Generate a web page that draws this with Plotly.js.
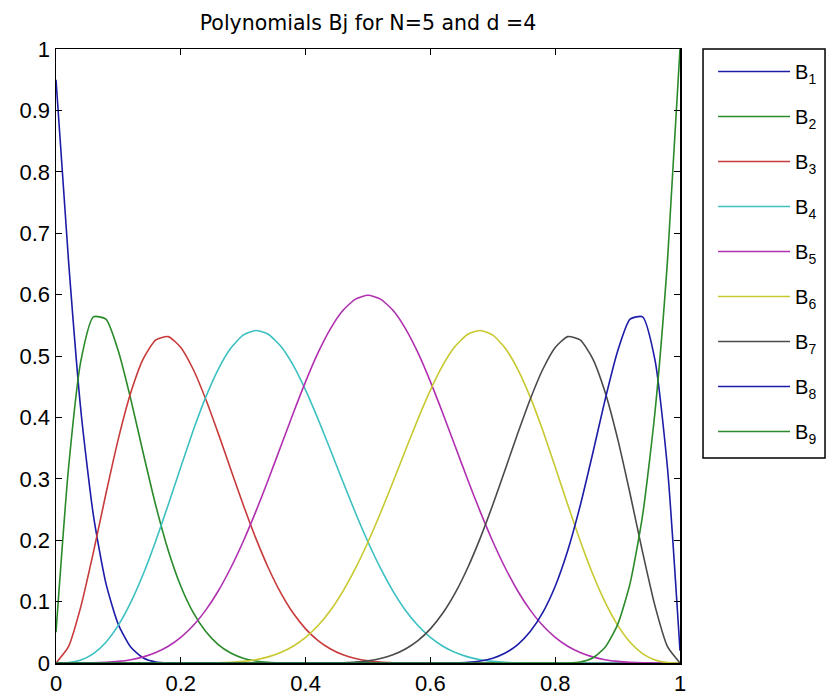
<!DOCTYPE html>
<html>
<head>
<meta charset="utf-8">
<script src="https://cdn.plot.ly/plotly-3.0.1.min.js"></script>
<style>html,body{margin:0;padding:0;background:#fff;}#chart{width:827px;height:700px;}</style>
</head>
<body>
<div id="chart"></div>
<script>
// x samples (0 to 1, step 0.02)
const xs = [0,0.02,0.04,0.06,0.08,0.1,0.12,0.14,0.16,0.18,0.2,0.22,0.24,0.26,0.28,0.3,0.32,0.34,0.36,0.38,0.4,0.42,0.44,0.46,0.48,0.5,0.52,0.54,0.56,0.58,0.6,0.62,0.64,0.66,0.68,0.7,0.72,0.74,0.76,0.78,0.8,0.82,0.84,0.86,0.88,0.9,0.92,0.94,0.96,0.98,1];

const seriesNames = ["B<sub>1</sub>","B<sub>2</sub>","B<sub>3</sub>","B<sub>4</sub>","B<sub>5</sub>","B<sub>6</sub>","B<sub>7</sub>","B<sub>8</sub>","B<sub>9</sub>"];

const B1 = [0.95,0.6561,0.4096,0.2401,0.1296,0.0625,0.0256,0.0081,0.0016,0.0001,0,
  0,0,0,0,0,0,0,0,0,0, 0,0,0,0,0,0,0,0,0,0, 0,0,0,0,0,0,0,0,0,0, 0,0,0,0,0,0,0,0,0,0];
const B2 = [0.05,0.3168,0.4930,0.5638,0.5600,0.5078,0.4290,0.3408,0.2560,0.1828,0.1250,
  0.0820,0.0512,0.0300,0.0162,0.0078,0.0032,0.0010,0.0002,0,0,
  0,0,0,0,0,0,0,0,0,0, 0,0,0,0,0,0,0,0,0,0, 0,0,0,0,0,0,0,0,0,0];
const B3 = [0,0.0265,0.0926,0.1806,0.2756,0.3655,0.4410,0.4958,0.5262,0.5316,0.5139,
  0.4780,0.4296,0.3740,0.3155,0.2578,0.2038,0.1556,0.1146,0.0813,0.0556,
  0.0365,0.0228,0.0133,0.0072,0.0035,0.0014,0.0005,0.0001,0,0,
  0,0,0,0,0,0,0,0,0,0, 0,0,0,0,0,0,0,0,0,0];
const B4 = [0,0.0006,0.0048,0.0152,0.0338,0.0616,0.0990,0.1453,0.1991,0.2582,0.3194,
  0.3790,0.4331,0.4784,0.5125,0.5339,0.5415,0.5354,0.5161,0.4850,0.4444,
  0.3972,0.3464,0.2947,0.2443,0.1971,0.1544,0.1172,0.0860,0.0610,0.0417,
  0.0273,0.0171,0.0100,0.0054,0.0026,0.0011,0.0003,0.0001,0,0,
  0,0,0,0,0,0,0,0,0,0];
const B5 = [0,0,0.0001,0.0003,0.0011,0.0026,0.0054,0.0100,0.0171,0.0273,0.0417,
  0.0610,0.0861,0.1173,0.1547,0.1979,0.2461,0.2980,0.3521,0.4063,0.4583,
  0.5054,0.5447,0.5744,0.5927,0.5990,0.5927,0.5744,0.5447,0.5054,0.4583,
  0.4063,0.3521,0.2980,0.2461,0.1979,0.1547,0.1173,0.0861,0.0610,0.0417,
  0.0273,0.0171,0.0100,0.0054,0.0026,0.0011,0.0003,0.0001,0,0];
const B6 = [0,0,0,0,0,0,0,0,0,0,
  0,0,0.0001,0.0003,0.0011,0.0026,0.0054,0.0100,0.0171,0.0273,0.0417,
  0.0610,0.0860,0.1172,0.1544,0.1971,0.2443,0.2947,0.3464,0.3972,0.4444,
  0.4850,0.5161,0.5354,0.5415,0.5339,0.5125,0.4784,0.4331,0.3790,0.3194,
  0.2582,0.1991,0.1453,0.0990,0.0616,0.0338,0.0152,0.0048,0.0006,0];
const B7 = [0,0,0,0,0,0,0,0,0,0, 0,0,0,0,0,0,0,0,0,0,
  0,0,0.0001,0.0005,0.0014,0.0035,0.0072,0.0133,0.0228,0.0365,
  0.0556,0.0813,0.1146,0.1556,0.2038,0.2578,0.3155,0.3740,0.4296,0.4780,
  0.5139,0.5316,0.5262,0.4958,0.4410,0.3655,0.2756,0.1806,0.0926,0.0265,0];
const B8 = [0,0,0,0,0,0,0,0,0,0, 0,0,0,0,0,0,0,0,0,0, 0,0,0,0,0,0,0,0,0,0,
  0,0,0.0002,0.0010,0.0032,0.0078,0.0162,0.0300,0.0512,0.0820,
  0.1250,0.1828,0.2560,0.3408,0.4290,0.5078,0.5600,0.5638,0.4930,0.3168,0.02];
const B9 = [0,0,0,0,0,0,0,0,0,0, 0,0,0,0,0,0,0,0,0,0, 0,0,0,0,0,0,0,0,0,0,
  0,0,0,0,0,0,0,0,0,0,
  0,0.0001,0.0016,0.0081,0.0256,0.0625,0.1296,0.2401,0.4096,0.6561,1];

const allSeries = [B1,B2,B3,B4,B5,B6,B7,B8,B9];
const colors = ["#1c1ca8","#2a8a2a","#c83a3a","#3cc0c0","#b030b0","#c8c830","#4a4a4a","#1c1ca8","#2a8a2a"];

const traces = allSeries.map((ys,i)=>({
  x: xs, y: ys, type: 'scatter', mode: 'lines',
  name: seriesNames[i], legendgroup: 'g'+i,
  line: {color: colors[i], width: 1.6, shape: 'spline', smoothing: 0.6},
  hoverinfo: 'skip'
}));

const fontFam = '"Liberation Sans", Arial, sans-serif';
const layout = {
  width: 827, height: 700,
  margin: {l:56, r:147, t:49, b:37, autoexpand: false},
  paper_bgcolor: '#ffffff', plot_bgcolor: '#ffffff',
  title: {text: 'Polynomials Bj for N=5 and d =4', font: {family: '"DejaVu Sans", sans-serif', size: 20.5, color: '#000'},
          x: 0.445, xanchor: 'center', y: 0.968, yanchor: 'middle'},
  xaxis: {range: [0,1], tickvals: [0,0.2,0.4,0.6,0.8,1], ticktext: ['0','0.2','0.4','0.6','0.8','1'],
          ticks: 'inside', ticklen: 6, tickcolor: '#000', showline: true, linecolor: '#000', linewidth: 1.5,
          mirror: 'ticks', showgrid: false, zeroline: false,
          tickfont: {family: fontFam, size: 22, color: '#000'}},
  yaxis: {range: [0,1], tickvals: [0,0.1,0.2,0.3,0.4,0.5,0.6,0.7,0.8,0.9,1],
          ticktext: ['0','0.1','0.2','0.3','0.4','0.5','0.6','0.7','0.8','0.9','1'],
          ticks: 'inside', ticklen: 6, tickcolor: '#000', showline: true, linecolor: '#000', linewidth: 1.5,
          mirror: 'ticks', showgrid: false, zeroline: false,
          tickfont: {family: fontFam, size: 22, color: '#000'}},
  shapes: [{type: 'rect', xref: 'paper', yref: 'paper', x0: 1.0369, x1: 1.2324, y0: 0.3339, y1: 1.0,
            line: {color: '#000', width: 1.5}, fillcolor: 'rgba(0,0,0,0)', layer: 'above'}],
  showlegend: true,
  legend: {x: 1.053, xanchor: 'left', y: 0.995, yanchor: 'top',
           borderwidth: 0, bgcolor: 'rgba(0,0,0,0)',
           font: {family: fontFam, size: 20, color: '#000'},
           itemwidth: 72, tracegroupgap: 16, traceorder: 'grouped'}
};

Plotly.newPlot('chart', traces, layout, {staticPlot: true, displayModeBar: false});
</script>
</body>
</html>
